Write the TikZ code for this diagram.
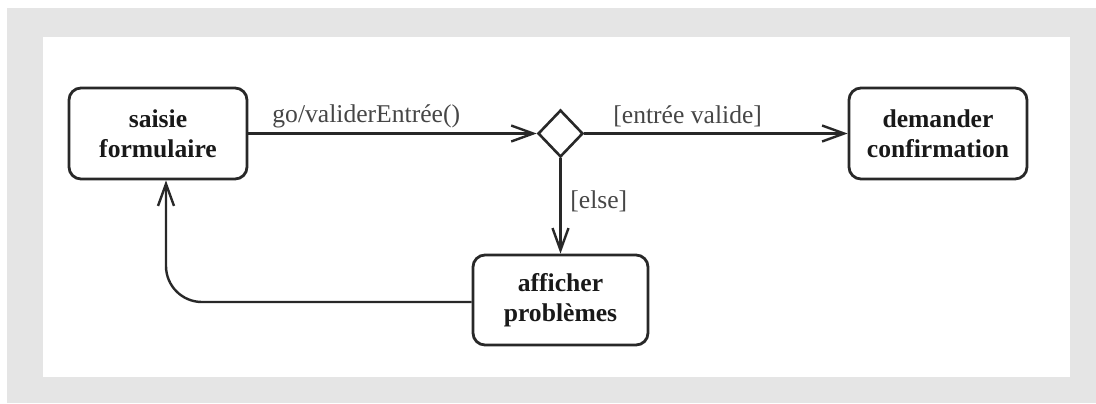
\documentclass[tikz,border=0pt]{standalone}
\usepackage{fontspec}
\IfFontExistsTF{LiberationSerif-Regular.ttf}
  {\setmainfont{LiberationSerif}[Extension=.ttf, UprightFont=*-Regular,
     BoldFont=*-Bold, ItalicFont=*-Italic, BoldItalicFont=*-BoldItalic]}
  {\setmainfont{Liberation Serif}}
\usetikzlibrary{shapes.geometric,arrows.meta,calc}
\definecolor{framegray}{RGB}{229,229,229}
\definecolor{inkline}{RGB}{40,40,40}
\definecolor{inktext}{RGB}{25,25,25}
\definecolor{guardtext}{RGB}{70,70,70}
\tikzset{
  activity/.style={draw=inkline, line width=1.4pt, rounded corners=6pt,
    fill=white, minimum width=89pt, minimum height=45.5pt, align=center,
    text=inktext, font=\fontsize{12.8pt}{15pt}\selectfont\bfseries, inner sep=0pt},
  choice/.style={draw=inkline, line width=1.3pt, shape=diamond, fill=white,
    minimum width=22.5pt, minimum height=23.5pt, inner sep=0pt},
  flow/.style={draw=inkline, line width=1.2pt,
    -{Straight Barb[length=11pt,width=8pt,line width=1.2pt]}},
  guard/.style={text=guardtext, font=\fontsize{12.8pt}{15pt}\selectfont, inner sep=0pt}
}
\begin{document}
\begin{tikzpicture}[x=0.5pt,y=-0.5pt]
  % frame
  \useasboundingbox (0,0) rectangle (1096,403);
  \fill[white] (0,0) rectangle (1096,403);
  \fill[framegray] (7,8) rectangle (1096,403);
  \fill[white] (43,37) rectangle (1070,377);

  % activities
  \node[activity] (saisie) at (158,133.5) {saisie\\formulaire};
  \node[choice] (dec) at (560.5,133.5) {};
  \node[activity] (demander) at (938,133.5) {demander\\confirmation};
  \node[activity, minimum width=87.5pt, minimum height=45pt] (afficher) at (560.5,300) {afficher\\problèmes};
  \coordinate (back) at ($(saisie.south)+(8,0)$);

  % transitions
  \draw[flow] (saisie.east) -- (dec.west);
  \draw[flow] (dec.east) -- (demander.west);
  \draw[flow] (dec.south) -- (afficher.north);
  \draw[flow, rounded corners=18pt] ($(afficher.west)+(0,2)$) -| (back);

  % guards
  \node[guard, anchor=base west] (g1) at (272,122) {go/validerEntrée()};
  \node[guard, anchor=base west] (g2) at (613,123) {[entrée valide]};
  \node[guard, anchor=base west] (g3) at (570,208) {[else]};
\end{tikzpicture}
\end{document}
